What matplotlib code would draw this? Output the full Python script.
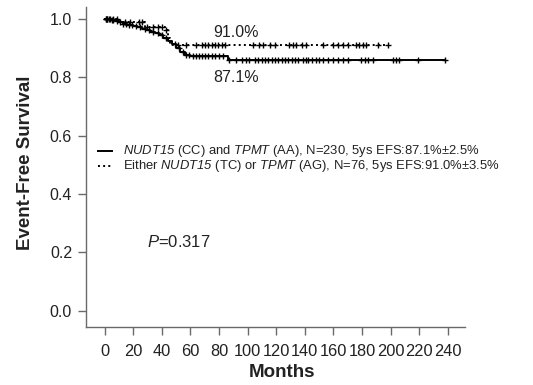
import numpy as np
import matplotlib
matplotlib.use("Agg")
import matplotlib.pyplot as plt
from matplotlib.lines import Line2D

plt.rcParams['font.family'] = ['Liberation Sans', 'DejaVu Sans']
plt.rcParams['mathtext.fontset'] = 'custom'
plt.rcParams['mathtext.it'] = 'Liberation Sans:italic'
plt.rcParams['mathtext.rm'] = 'Liberation Sans:italic'

# Group A: NUDT15 (CC) and TPMT (AA) - solid
a_event_t = [0, 4, 7, 10, 13, 16, 20, 23, 26, 29, 32, 35, 38, 41, 44, 47, 50, 53, 56, 60, 86]
a_event_s = [1.0, 0.996, 0.991, 0.987, 0.983, 0.978, 0.974, 0.970, 0.965, 0.961, 0.956,
             0.952, 0.943, 0.934, 0.925, 0.912, 0.899, 0.886, 0.877, 0.871, 0.857]
a_censor = [1, 2, 3, 5, 6, 9, 11, 13, 15, 17, 19, 22, 25, 28, 31, 34, 37, 40, 43, 49, 52,
            55, 57, 59, 62, 64, 66, 68, 70, 72, 75, 77, 80, 83, 87, 92, 96, 99, 101, 105,
            107, 110, 112, 114, 117, 119, 121, 124, 126, 128, 131, 133, 135, 139, 141, 142,
            145, 148, 150, 153, 156, 160, 163, 167, 170, 179, 182, 184, 188, 202, 204, 206,
            219, 238]

# Group B: Either NUDT15 (TC) or TPMT (AG) - dotted
b_event_t = [0, 10, 28, 42, 44, 46]
b_event_s = [1.0, 0.987, 0.973, 0.960, 0.935, 0.910]
b_censor = [1, 2, 4, 6, 9, 14, 18, 24, 26, 30, 34, 37, 40, 43, 51, 57, 64, 68, 70, 72, 75,
            77, 79, 82, 84, 104, 108, 111, 116, 119, 129, 132, 134, 138, 141, 153, 160, 163,
            167, 170, 176, 178, 181, 183, 191, 198]

x_ticks = list(range(0, 241, 20))
y_ticks = [0.0, 0.2, 0.4, 0.6, 0.8, 1.0]

fig = plt.figure(figsize=(5.33, 3.85), dpi=100)
ax = fig.add_axes([86/533, 1-327/385, (465-86)/533, (327-7)/385])


def km(ax, t, s, cens, ls):
    end = max(cens)
    tt = list(t) + [end]
    ss = list(s) + [s[-1]]
    ax.step(tt, ss, where='post', color='black', lw=1.4, ls=ls)
    idx = np.searchsorted(np.array(t), np.array(cens), side='right') - 1
    cy = np.array(s)[idx]
    ax.plot(cens, cy, ls='none', marker='+', ms=5, mew=1.0, color='black')


km(ax, a_event_t, a_event_s, a_censor, '-')
km(ax, b_event_t, b_event_s, b_censor, ':')

ax.set_xlim(-13, 252)
ax.set_ylim(-0.055, 1.04)
ax.set_xticks(x_ticks)
ax.set_yticks(y_ticks)
ax.set_yticklabels([f"{v:.1f}" for v in y_ticks])
for sp in ['top', 'right']:
    ax.spines[sp].set_visible(False)
for sp in ['left', 'bottom']:
    ax.spines[sp].set_color('#6a6a6a')
    ax.spines[sp].set_linewidth(1.0)
ax.tick_params(axis='both', direction='out', length=6, width=1.0, color='#6a6a6a',
               labelcolor='#222222')
ax.tick_params(axis='x', pad=6, labelsize=11.8)
ax.tick_params(axis='y', pad=4, labelsize=11.5)

ax.set_xlabel('Months', fontsize=13.5, fontweight='bold', color='#222222')
ax.xaxis.set_label_coords((282-86)/(465-86), -(364-327)/(327-7))
ax.set_ylabel('Event-Free Survival', fontsize=13.5, fontweight='bold', color='#222222')
ax.yaxis.set_label_coords(-(86-34)/(465-86), (327-163)/(327-7))

ax.text(92, 0.952, '91.0%', fontsize=11.5, ha='center', va='center', color='#222222')
ax.text(92, 0.80, '87.1%', fontsize=11.5, ha='center', va='center', color='#222222')
ax.text(30, 0.236, r'$P$' + '=0.317', fontsize=12, ha='left', va='center', color='#222222')

# legend drawn manually
leg_y = [1-(151-19)/292, 1-(166.5-19)/292]
hx = [(98-105)/1.43, (112-105)/1.43]
tx = (123-105)/1.43
ax.add_line(Line2D(hx, [leg_y[0]]*2, color='black', lw=1.4))
ax.add_line(Line2D(hx, [leg_y[1]]*2, color='black', lw=1.4, ls=':'))
ax.text(tx, leg_y[0], r'$NUDT15$ (CC) and $TPMT$ (AA), N=230, 5ys EFS:87.1%±2.5%',
        fontsize=9.4, ha='left', va='center', color='#222222')
ax.text(tx, leg_y[1], r'Either $NUDT15$ (TC) or $TPMT$ (AG), N=76, 5ys EFS:91.0%±3.5%',
        fontsize=9.4, ha='left', va='center', color='#222222')

fig.savefig('out.png', dpi=100)
